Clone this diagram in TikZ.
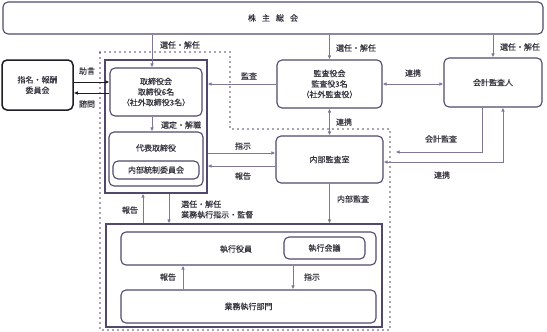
\documentclass[tikz,border=0pt]{standalone}
\usepackage{fontspec}
\usepackage{tikz}
\usetikzlibrary{
  arrows.meta,
  positioning,
  calc
}
\newfontfamily\jp[FakeBold=0.3]{Noto Sans CJK JP}
\definecolor{boxline}{RGB}{82,72,108}
\definecolor{arrline}{RGB}{128,118,150}
\definecolor{inkgray}{RGB}{52,50,60}
\definecolor{nearblack}{RGB}{30,28,36}
\tikzset{
  govbox/.style={draw=boxline,line width=1.1pt,rounded corners=5pt,inner sep=0pt,
    align=center,text=inkgray,font=\jp\fontsize{8}{10.5}\selectfont},
  govframe/.style={draw=boxline,line width=1.2pt,inner sep=0pt},
  flow/.style={draw=arrline,line width=0.8pt,-{Latex[length=4pt,width=3.6pt]}},
  flowboth/.style={draw=arrline,line width=0.8pt,{Latex[length=4pt,width=3.6pt]}-{Latex[length=4pt,width=3.6pt]}},
  flowlbl/.style={inner sep=0pt,text=inkgray,font=\jp\fontsize{8}{10.5}\selectfont},
  dotline/.style={draw=boxline,line width=1.6pt,line cap=round,dash pattern=on 0pt off 5pt}
}
\newcommand{\govnode}[6]{%
  \node[govbox,minimum width=#4pt,minimum height=#5pt] (#1) at (#2,#3) {#6};%
}
\newcommand{\flowtag}[4]{%
  \node[flowlbl] (#1) at (#2,#3) {#4};%
}

\begin{document}
\begin{tikzpicture}[x=1pt,y=-1pt]
  \useasboundingbox (0,0) rectangle (547,332);
  % dotted audit area
  \draw[dotline] (100,52) -- (230,52) -- (230,129) -- (390,129) -- (390,330) -- (100,330) -- cycle;
  % frames
  \node[govframe,minimum width=102pt,minimum height=133pt] (brdframe) at (156,126.5) {};
  \node[govframe,minimum width=276pt,minimum height=103pt] (execframe) at (244,275.5) {};
  % boxes
  \govnode{soukai}{273}{18}{540}{32}{株\hspace{6pt}主\hspace{6pt}総\hspace{6pt}会}
  \node[govbox,draw=nearblack,line width=1.5pt,minimum width=71pt,minimum height=50pt] (iinkai) at (37.5,85) {指名・報酬\\委員会};
  \govnode{torikai}{156}{92}{92}{48}{取締役会\\取締役6名\\（社外取締役3名）}
  \govnode{daihyo}{156}{159}{94}{54}{}
  \flowtag{daihyotxt}{156}{148}{代表取締役}
  \govnode{naibutousei}{156}{170}{86}{18}{内部統制委員会}
  \govnode{kanyaku}{329.5}{84}{105}{48}{監査役会\\監査役3名\\（社外監査役）}
  \govnode{kaikei}{493}{82.5}{98}{49}{会計監査人}
  \govnode{naibu}{329.5}{159.5}{107}{47}{内部監査室}
  \govnode{yakuin}{248.5}{248.5}{255}{33}{}
  \flowtag{yakuintxt}{236}{249}{執行役員}
  \govnode{kaigi}{324.5}{248}{81}{22}{執行会議}
  \govnode{gyoumu}{248.5}{306.5}{255}{33}{業務執行部門}
  % coordinates
  \coordinate (selA) at ([xshift=-4pt]torikai.north);
  \coordinate (adv) at ([yshift=3pt]iinkai.east);
  \coordinate (cons) at ([yshift=-8pt]iinkai.east);
  \coordinate (selB) at ([xshift=-4pt]torikai.south);
  \coordinate (instr) at ([yshift=6.5pt]naibu.west);
  \coordinate (rep) at ([yshift=-6.5pt]naibu.west);
  \coordinate (accA) at ([xshift=-11pt]kaikei.south);
  \coordinate (accEnd) at ([xshift=12pt,yshift=7.5pt]naibu.east);
  \coordinate (coopA) at ([xshift=10pt]kaikei.south);
  \coordinate (coopEnd) at ([yshift=-2.5pt]naibu.east);
  \coordinate (upRep) at ([xshift=-13pt]brdframe.south);
  \coordinate (downSel) at ([xshift=13pt]brdframe.south);
  \coordinate (ordr) at ([xshift=44.5pt]yakuin.south);
  \coordinate (rprt) at ([xshift=-65.5pt]gyoumu.north);
  % connectors
  \draw[flow] (selA |- soukai.south) -- (selA);
  \draw[flow] (kanyaku.north |- soukai.south) -- (kanyaku.north);
  \draw[flow] (kaikei.north |- soukai.south) -- (kaikei.north);
  \draw[flow,draw=nearblack] (adv) -- (adv -| torikai.west);
  \draw[flow,draw=nearblack] (cons -| torikai.west) -- (cons);
  \draw[flow] (kanyaku.west) -- (kanyaku.west -| brdframe.east);
  \draw[flowboth] (kanyaku.east) -- (kanyaku.east -| kaikei.west);
  \draw[flowboth] (kanyaku.south) -- (naibu.north);
  \draw[flow] (selB) -- (selB |- daihyo.north);
  \draw[flow] (instr -| brdframe.east) -- (instr);
  \draw[flow] (rep) -- (rep -| brdframe.east);
  \draw[flow] (accA) |- (accEnd);
  \draw[flowboth] (coopEnd) -| (coopA);
  \draw[flow] (upRep |- execframe.north) -- (upRep);
  \draw[flow] (downSel) -- (downSel |- execframe.north);
  \draw[flow] (naibu.south) -- (naibu.south |- execframe.north);
  \draw[flow] (ordr) -- (ordr |- gyoumu.north);
  \draw[flow] (rprt) -- (rprt |- yakuin.south);
  % labels
  \flowtag{lSelA}{180}{45}{選任・解任}
  \flowtag{lSelK}{356}{48}{選任・解任}
  \flowtag{lSelC}{520}{47}{選任・解任}
  \flowtag{lAdv}{87}{71}{助言}
  \flowtag{lCons}{87}{104}{諮問}
  \flowtag{lAudit}{249}{76}{監査}
  \flowtag{lCoopA}{413}{73}{連携}
  \flowtag{lCoopB}{344}{122}{連携}
  \flowtag{lSelB}{181}{125}{選定・解職}
  \flowtag{lInstr}{243}{146}{指示}
  \flowtag{lRep}{243}{176}{報告}
  \flowtag{lAcc}{441}{139}{会計監査}
  \flowtag{lCoopC}{442}{175}{連携}
  \flowtag{lUpRep}{130}{210}{報告}
  \node[flowlbl,align=left,anchor=west] (lDown) at (181,209.5) {選任・解任\\業務執行指示・監督};
  \flowtag{lInAud}{353}{199}{内部監査}
  \flowtag{lRprt}{168}{277}{報告}
  \flowtag{lOrdr}{312}{277}{指示}
\end{tikzpicture}
\end{document}
